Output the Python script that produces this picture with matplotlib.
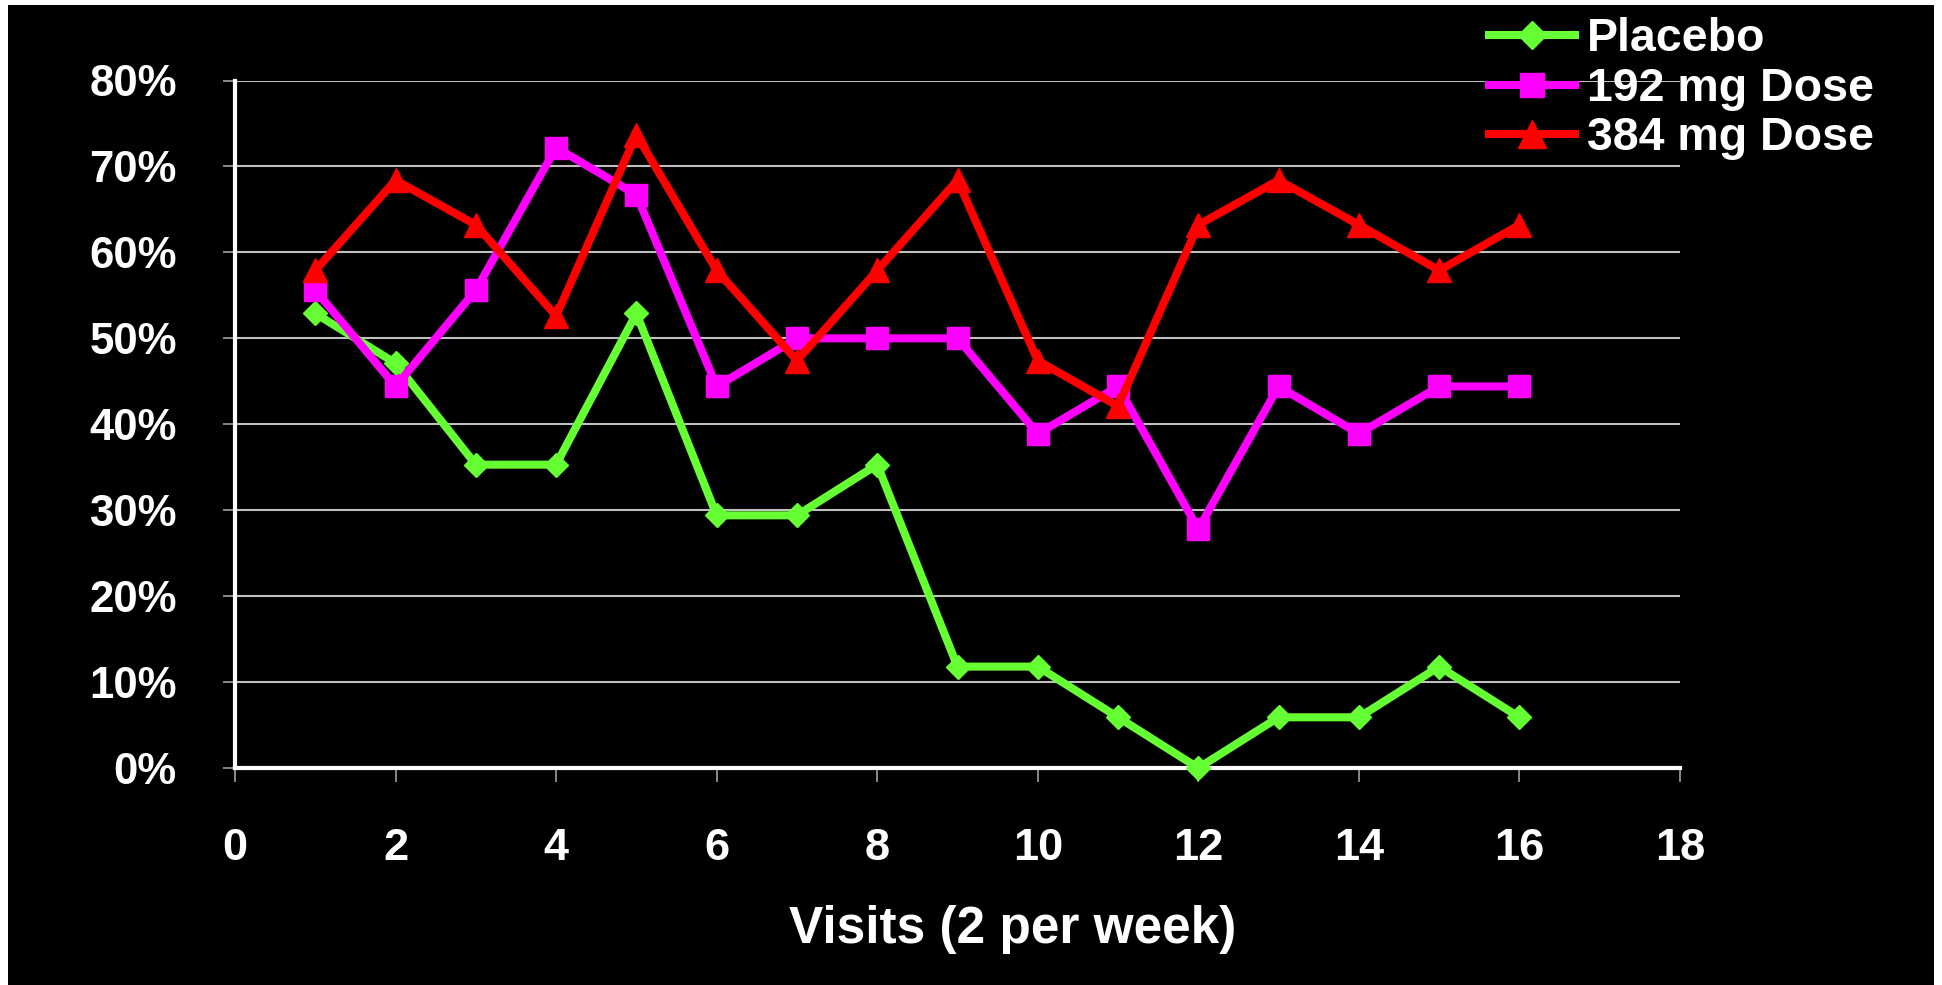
import matplotlib
matplotlib.use("Agg")
import matplotlib.pyplot as plt
from matplotlib.patches import Rectangle
from matplotlib.ticker import FuncFormatter, MultipleLocator

plt.rcParams['font.family'] = ['Liberation Sans', 'DejaVu Sans']
plt.rcParams['font.weight'] = 'bold'

# Response rate (%) at each visit
visits = list(range(1, 17))
placebo = [52.9, 47.1, 35.3, 35.3, 52.9, 29.4, 29.4, 35.3,
           11.8, 11.8, 5.9, 0.0, 5.9, 5.9, 11.8, 5.9]
dose_192 = [55.6, 44.4, 55.6, 72.2, 66.7, 44.4, 50.0, 50.0,
            50.0, 38.9, 44.4, 27.8, 44.4, 38.9, 44.4, 44.4]
dose_384 = [57.9, 68.4, 63.2, 52.6, 73.7, 57.9, 47.4, 57.9,
            68.4, 47.4, 42.1, 63.2, 68.4, 63.2, 57.9, 63.2]
series_labels = ["Placebo", "192 mg Dose", "384 mg Dose"]
x_label = "Visits (2 per week)"

W, H = 1942, 985
fig = plt.figure(figsize=(W / 100, H / 100), dpi=100, facecolor="white")
# black slide background with a thin white margin
fig.patches.append(Rectangle((8 / W, 0), (1934 - 8) / W, (H - 5) / H,
                             transform=fig.transFigure, facecolor="black",
                             edgecolor="none", zorder=-10))

ax = fig.add_axes([235 / W, 1 - 768 / H, (1680 - 235) / W, (768 - 80.5) / H])
ax.set_facecolor("black")

lw = 5.8
h1, = ax.plot(visits, placebo, color="#66FF33", lw=lw, marker="D", ms=12.5,
              clip_on=False, zorder=3)
h2, = ax.plot(visits, dose_192, color="#FF00FF", lw=lw, marker="s", ms=15.5,
              clip_on=False, zorder=4)
h3, = ax.plot(visits, dose_384, color="#FF0000", lw=lw, marker="^", ms=17.5,
              clip_on=False, zorder=5)

ax.set_xlim(0, 18)
ax.set_ylim(0, 80)
ax.xaxis.set_major_locator(MultipleLocator(2))
ax.yaxis.set_major_locator(MultipleLocator(10))
ax.yaxis.set_major_formatter(FuncFormatter(lambda v, p: f"{v:.0f}%"))

ax.grid(axis="y", color="#c0c0c0", lw=1.5, zorder=1)
ax.set_axisbelow(True)

for s in ("top", "right"):
    ax.spines[s].set_visible(False)
for s in ("left", "bottom"):
    ax.spines[s].set_color("white")
    ax.spines[s].set_linewidth(3)
    ax.spines[s].set_zorder(2)

ax.tick_params(axis="y", direction="out", length=9, width=1.2, color="#a0a0a0",
               labelcolor="white", labelsize=31.5, pad=33)
ax.tick_params(axis="x", direction="out", length=10, width=1.2, color="#a0a0a0",
               labelcolor="white", labelsize=32.5, pad=33)
for lab in ax.get_xticklabels() + ax.get_yticklabels():
    lab.set_fontweight("bold")

fig.text(1013 / W, 1 - 929 / H, x_label, color="white", fontsize=37,
         fontweight="bold", ha="center", va="center")

leg = fig.legend([h1, h2, h3], series_labels, loc="upper left",
                 bbox_to_anchor=(1480 / W, 1 - 8 / H), frameon=False,
                 prop={"size": 33.5, "weight": "bold"}, labelcolor="white",
                 handlelength=1.85, handletextpad=0.25, labelspacing=0.12,
                 borderaxespad=0, borderpad=0.2, markerscale=1.15)

fig.savefig("out.png", dpi=100, facecolor="white")
